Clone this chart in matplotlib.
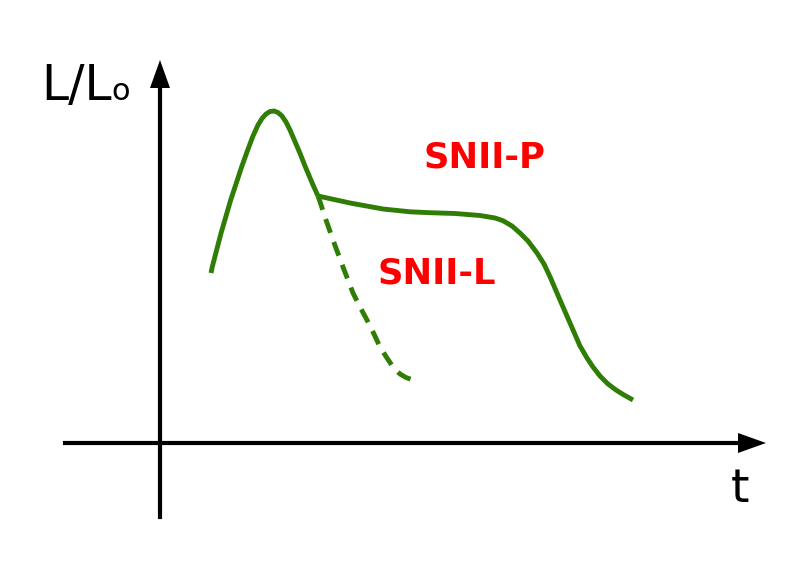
import matplotlib
matplotlib.use("Agg")
import matplotlib.pyplot as plt

# curve coordinates (schematic units; y grows downward)
rise_x = [211, 212.3, 221, 230.7, 241.7, 247.7, 253, 258, 262, 266, 270, 274, 278, 282, 286, 290, 294.3, 300, 305.3, 312.3, 318]
rise_y = [273, 266.7, 233.3, 200, 166.7, 150, 136, 125, 118.5, 114, 111.5, 111, 112.5, 116, 122, 130, 140, 153.3, 166.7, 183.3, 196]

plateau_x = [318, 350, 383, 410, 430, 455, 480, 495, 503, 512, 520, 528, 537, 544, 550, 560, 570, 580, 587, 593, 600, 608, 616, 624, 633]
plateau_y = [196, 203, 209, 211.8, 212.7, 213.5, 215.5, 218, 220.7, 226, 233, 241, 253, 264, 276.7, 300, 323, 346, 358, 367, 376, 384, 390, 395, 400]

linear_x = [318, 320, 326, 333, 343, 353, 360, 367, 374, 380, 387, 393, 400, 406, 413]
linear_y = [196, 201.7, 220, 240, 267, 293, 307, 320, 334, 347, 358, 367, 374, 377.5, 380]

labels = ["SNII-P", "SNII-L"]

fig = plt.figure(figsize=(8, 5.66), dpi=100)
ax = fig.add_axes([0, 0, 1, 1])
ax.set_xlim(0, 800)
ax.set_ylim(566, 0)
ax.axis("off")

green = "#2f7d05"
lw_g = 3.5
ax.plot(rise_x, rise_y, color=green, lw=lw_g, solid_capstyle="butt", solid_joinstyle="round")
ax.plot(plateau_x, plateau_y, color=green, lw=lw_g, solid_capstyle="butt", solid_joinstyle="round")
ax.plot(linear_x, linear_y, color=green, lw=lw_g, dashes=(3.0, 2.0), dash_capstyle="butt", dash_joinstyle="round")

# axes with arrows
ax.plot([160, 160], [517, 80], color="black", lw=3.0)
ax.plot([65, 745], [443, 443], color="black", lw=3.0)
ax.fill([160, 150, 170], [60, 88, 88], color="black", lw=0)
ax.fill([766, 738, 738], [443, 433, 453], color="black", lw=0)

ax.text(41, 100, "L/L", fontsize=35, color="black", ha="left", va="baseline")
ax.text(111, 100, "o", fontsize=22, color="black", ha="left", va="baseline")
ax.text(731, 502, "t", fontsize=34, color="black", ha="left", va="baseline")

ax.text(484, 157, labels[0], fontsize=25.5, fontweight="bold", color="#ff0000", ha="center", va="center")
ax.text(437, 274, labels[1], fontsize=25.5, fontweight="bold", color="#ff0000", ha="center", va="center")

fig.savefig("out.png", dpi=100, facecolor="white")
